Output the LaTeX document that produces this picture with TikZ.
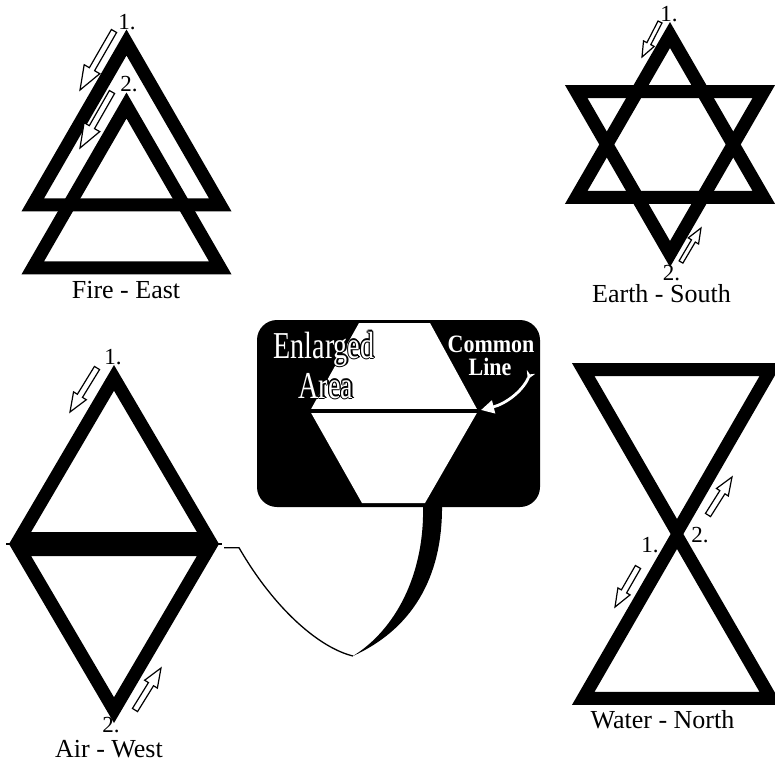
\documentclass[tikz,border=0pt]{standalone}
\usepackage{fontspec}
\setmainfont{Liberation Serif}
\usetikzlibrary{calc,arrows.meta}
\tikzset{
  band/.style={fill=black, even odd rule},
  harr/.style={fill=white, draw=black, line width=1.2pt, line join=miter},
  lbl/.style={font=\fontsize{26}{26}\selectfont, anchor=base, inner sep=0pt},
  num/.style={font=\fontsize{23}{23}\selectfont, anchor=base, inner sep=0pt},
  big/.style={font=\fontsize{38}{38}\selectfont, anchor=base, inner sep=0pt},
  bold/.style={font=\bfseries\fontsize{25}{25}\selectfont, anchor=base, inner sep=0pt, text=white},
}
\newcommand{\ringtri}[4]{%
  \fill[band, shift={(#1,#2)}] (#4:#3) -- (#4+120:#3) -- (#4+240:#3) -- cycle
    (#4:#3-26) -- (#4+120:#3-26) -- (#4+240:#3-26) -- cycle;}
\newcommand{\harrow}[5]{%
  \coordinate (hT) at (#1); \coordinate (hP) at (#2);
  \coordinate (hB) at ($(hP)!#5!(hT)$);
  \filldraw[harr] ($(hT)!#3!90:(hP)$) -- ($(hB)!#3!90:(hP)$) -- ($(hB)!#4!90:(hP)$) -- (hP)
    -- ($(hB)!#4!-90:(hP)$) -- ($(hB)!#3!-90:(hP)$) -- ($(hT)!#3!-90:(hP)$) -- cycle;}
\newcommand{\outtext}[3]{%
  \foreach \dx/\dy in {-1.2/0,1.2/0,0/-1.2,0/1.2,-.85/-.85,.85/.85,-.85/.85,.85/-.85}
    {\node[big, text=black] at ($(#1,#2)+(\dx,\dy)$) {\scalebox{0.74}[1]{#3}};}
  \node[big, text=white] at (#1,#2) {\scalebox{0.74}[1]{#3}};}
\begin{document}
\begin{tikzpicture}[x=1pt,y=-1pt]
\fill[white] (0,0) rectangle (775,777);
\useasboundingbox (0,0) rectangle (775,777);

% ---------- Fire - East ----------
\ringtri{126.5}{150.8}{121.3}{-90}
\ringtri{126.5}{213.8}{121.3}{-90}
\harrow{114,31}{80,90}{3pt}{9pt}{24pt}
\harrow{112,92}{80,148}{3pt}{9pt}{24pt}
\node[num] (f1) at (127,29) {1.};
\node[num] (f2) at (129,91) {2.};
\node[lbl] (fire) at (126,298) {Fire - East};

% ---------- Earth - South ----------
\ringtri{670}{143.3}{121.3}{-90}
\ringtri{670}{145.7}{121.3}{90}
\harrow{660,22}{642,57}{2.2pt}{6pt}{15pt}
\harrow{681,262}{701,228}{2.2pt}{6pt}{15pt}
\node[num] (e1) at (669,21) {1.};
\node[num] (e2) at (671.5,280) {2.};
\node[lbl] (earth) at (661.5,302) {Earth - South};

% ---------- Air - West ----------
\draw[line width=1.2pt] (6,544) -- (222,544);
\fill[band] (114,365) -- (9,544) -- (114,723) -- (219,544) -- cycle
  (114,390.7) -- (31.1,532) -- (196.9,532) -- cycle
  (114,697.3) -- (31.1,556) -- (196.9,556) -- cycle;
\harrow{97,368}{70,412}{3pt}{7.5pt}{19pt}
\harrow{135,710}{161,668}{3pt}{7.5pt}{19pt}
\node[num] (a1) at (113,364) {1.};
\node[num] (a2) at (111,732) {2.};
\node[lbl] (air) at (109,757) {Air - West};

% ---------- Water - North ----------
\ringtri{677}{423.7}{121.3}{90}
\ringtri{677}{644.3}{121.3}{-90}
\harrow{638,567}{615,607}{3pt}{7pt}{18pt}
\harrow{708,515}{732,477}{3pt}{7pt}{18pt}
\node[num] (w1) at (650,552) {1.};
\node[num] (w2) at (700,542) {2.};
\node[lbl] (water) at (662.5,728) {Water - North};

% ---------- connector and tail ----------
\coordinate (c0) at (224,547.7);
\coordinate (c1) at (239,547.7);
\coordinate (cb) at (353,656);
\draw[line width=1.3pt] (c0) -- (c1) .. controls (275,610) and (320,648) .. (cb);
\fill (cb) .. controls (395,630) and (425,575) .. (423,504) -- (442,504)
  .. controls (443,580) and (410,630) .. (cb) -- cycle;

% ---------- Enlarged area box ----------
\fill[rounded corners=20pt] (257,320) rectangle (540,507);
\fill[white] (359,323) -- (430,323) -- (478,411) -- (425,503) -- (362,503) -- (310,411) -- cycle;
\draw[line width=3.5pt] (310,411) -- (478,411);
\outtext{324}{358}{Enlarged}
\outtext{326}{398}{Area}
\node[bold] (com) at (491,352) {\scalebox{0.88}[1]{Common}};
\node[bold] (lin) at (490,375) {\scalebox{0.88}[1]{Line}};
\coordinate (at) at (531,372);
\coordinate (ah) at (481,410);
\draw[white, line width=2.8pt, {Stealth[reversed,length=8pt,width=9pt]}-{Triangle[length=13pt,width=13pt]}]
  (at) .. controls (522,392) and (505,404) .. (ah);
\end{tikzpicture}
\end{document}
